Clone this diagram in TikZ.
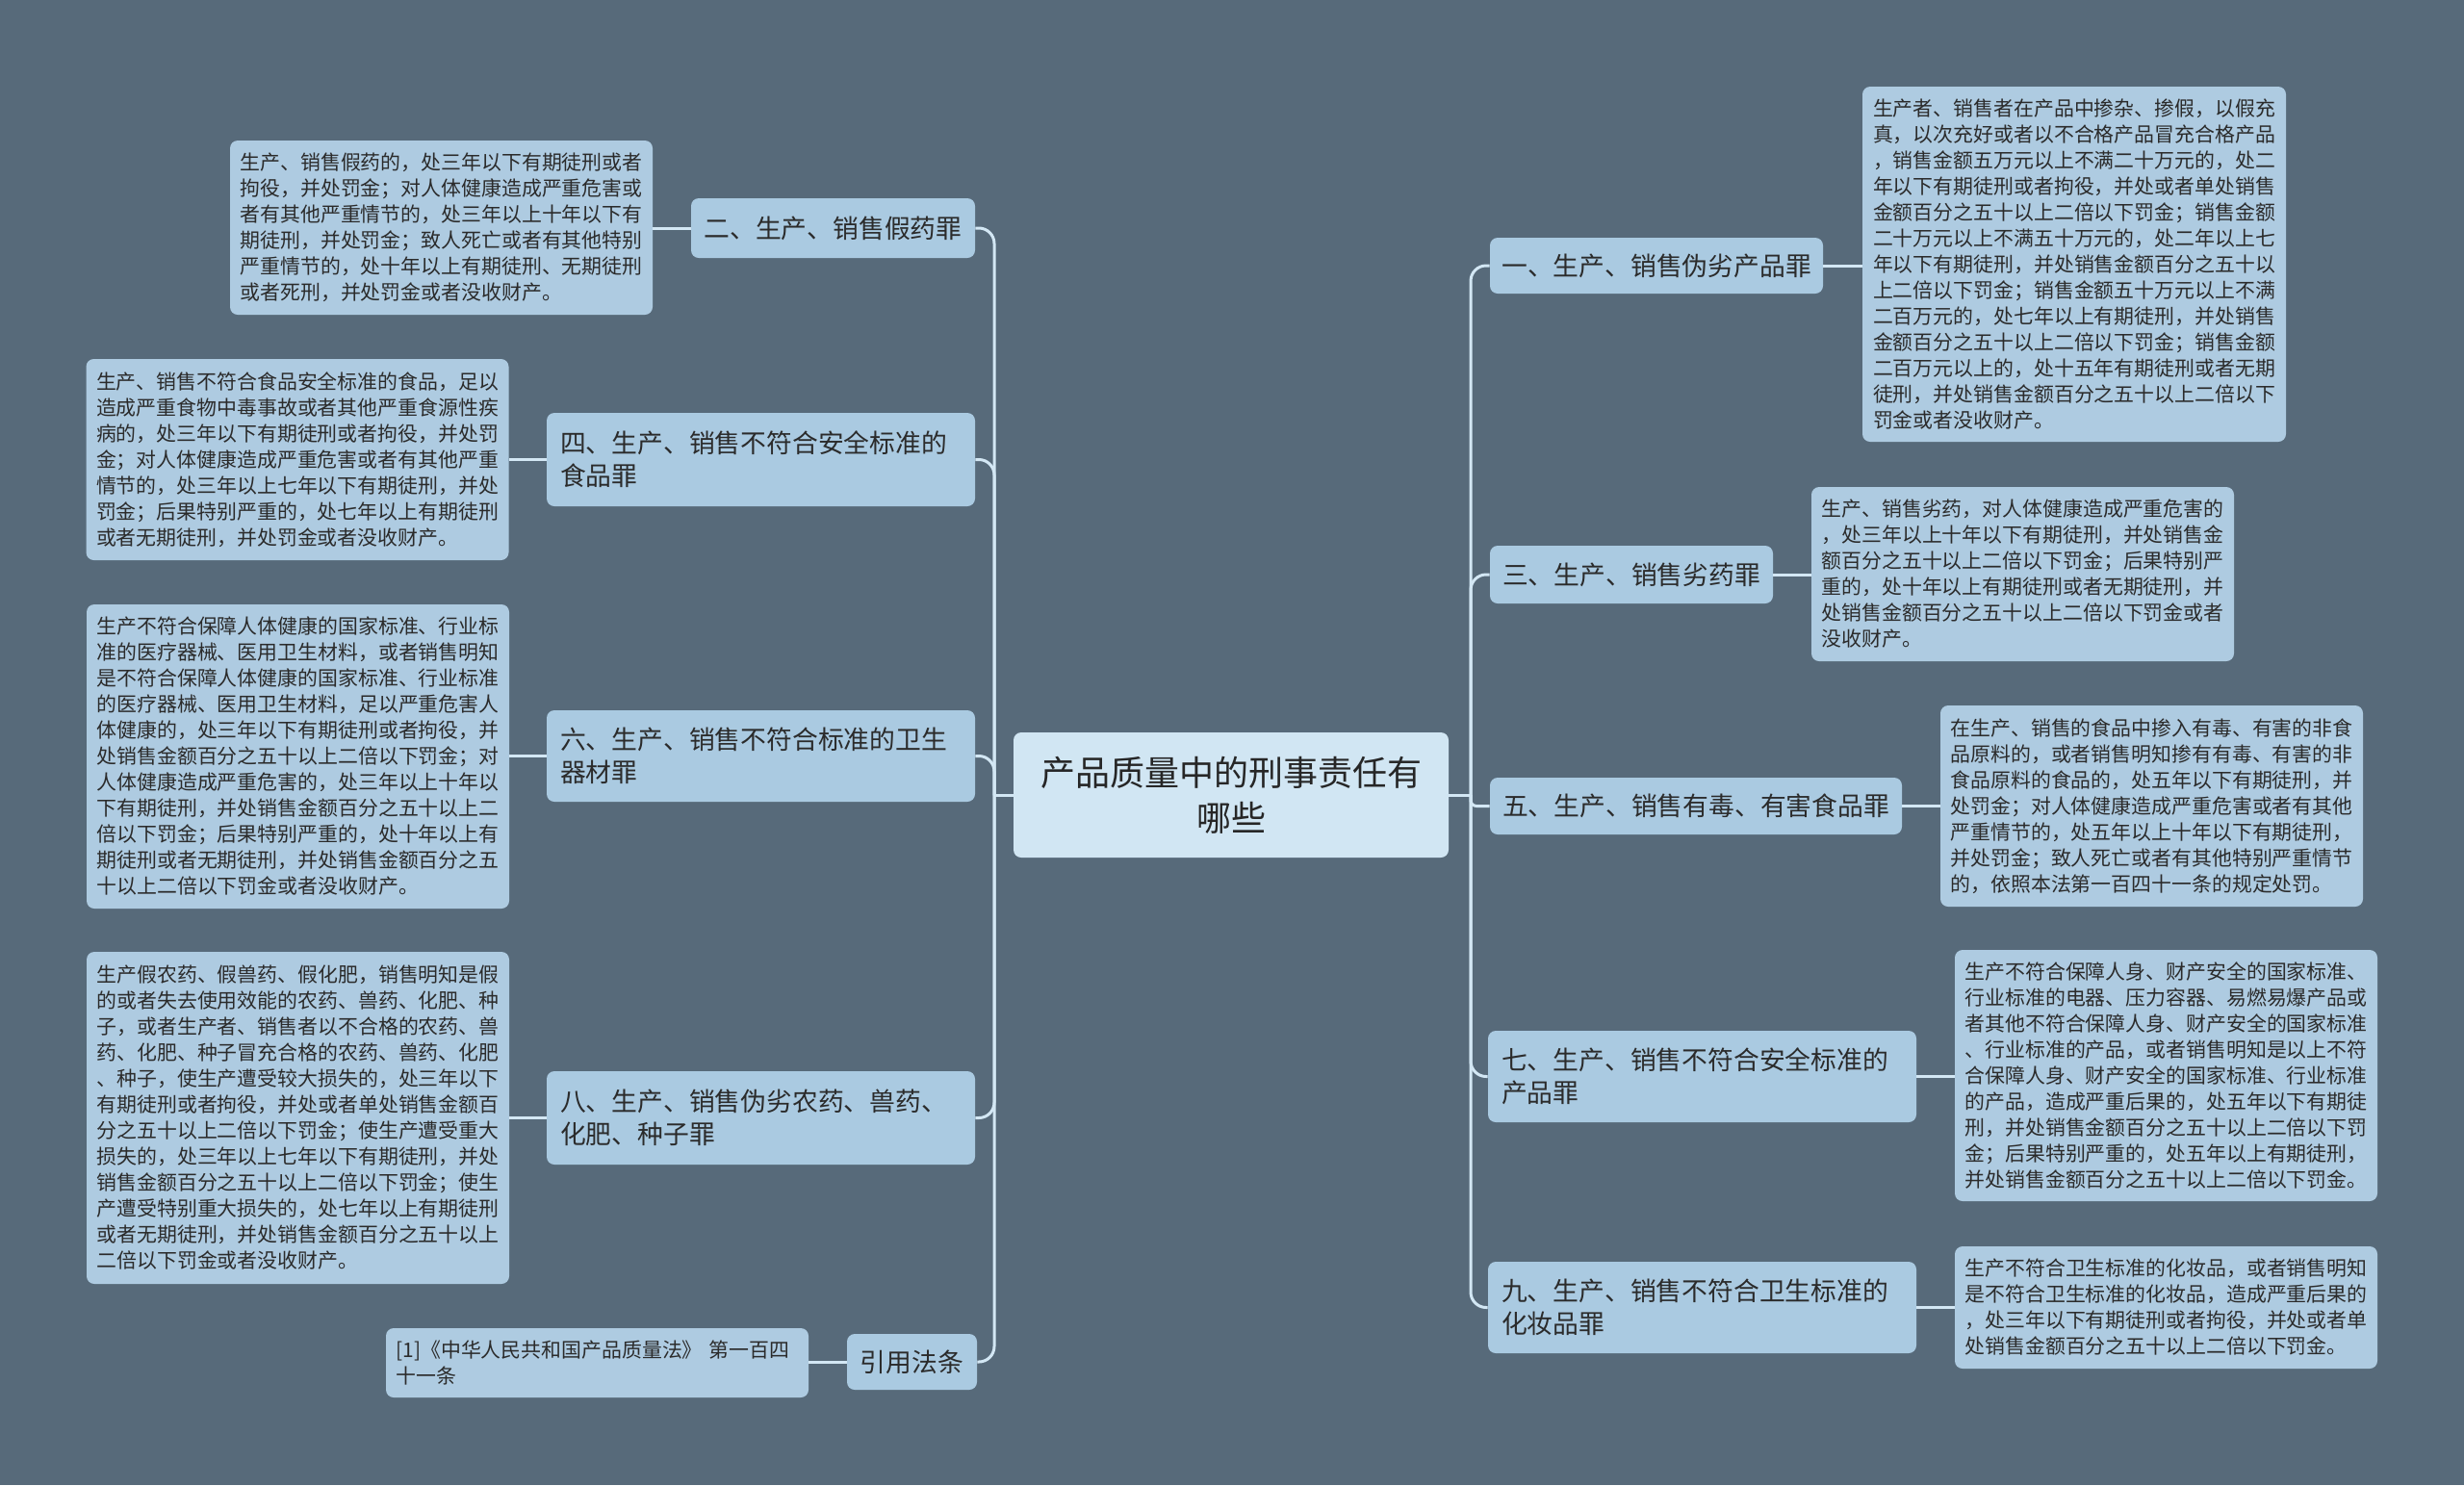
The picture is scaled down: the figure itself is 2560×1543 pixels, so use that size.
\documentclass[tikz,border=0pt]{standalone}
\usepackage{fontspec}
\setmainfont{Noto Sans CJK SC}
\definecolor{bgc}{HTML}{576A7A}
\definecolor{leafc}{HTML}{AECBE1}
\definecolor{branchc}{HTML}{AACAE1}
\definecolor{centerc}{HTML}{D1E6F3}
\definecolor{linec}{HTML}{D3E7F4}
\definecolor{txtc}{HTML}{2B2B2B}
\tikzset{
  sz/.style 2 args={minimum width={#1*0.5pt},minimum height={#2*0.5pt}},
  leaf/.style={fill=leafc, rounded corners=4pt, text=txtc, align=left,
    text width=209pt, inner xsep=5.25pt, inner ysep=2pt,
    font=\fontsize{10.45pt}{13.5pt}\selectfont},
  branchone/.style={fill=branchc, rounded corners=4pt, text=txtc, align=center,
    inner xsep=4pt, inner ysep=2pt, font=\fontsize{13.4pt}{17pt}\selectfont},
  branchtwo/.style={fill=branchc, rounded corners=4pt, text=txtc, align=left,
    text width=208.5pt, inner xsep=7pt, inner ysep=2pt, font=\fontsize{13.4pt}{17pt}\selectfont},
  centerbox/.style={fill=centerc, rounded corners=4pt, text=black!85, align=center,
    inner sep=2pt, font=\fontsize{18pt}{23.5pt}\selectfont},
  conn/.style={draw=linec, line width=1.5pt},
  trunk/.style={conn, rounded corners=8pt}
}
\begin{document}
\begin{tikzpicture}[x=0.5pt,y=-0.5pt]
\fill[bgc] (0,0) rectangle (2560,1543);
\useasboundingbox (0,0) rectangle (2560,1543);

% center
\node[centerbox, sz={452}{130}] (C) at (1279,826) {产品质量中的刑事责任有\\哪些};

% left branches
\node[branchone, sz={295}{62}] (B2) at (865.5,237) {二、生产、销售假药罪};
\node[branchtwo, sz={445}{97}] (B4) at (790.5,477.5) {四、生产、销售不符合安全标准的\\食品罪};
\node[branchtwo, sz={445}{95}] (B6) at (790.5,785.5) {六、生产、销售不符合标准的卫生\\器材罪};
\node[branchtwo, sz={445}{97}] (B8) at (790.5,1161.5) {八、生产、销售伪劣农药、兽药、\\化肥、种子罪};
\node[branchone, sz={135}{58}] (BC) at (947.5,1415) {引用法条};

% right branches
\node[branchone, sz={346}{58}] (R1) at (1721,276) {一、生产、销售伪劣产品罪};
\node[branchone, sz={294}{60}] (R3) at (1695,597) {三、生产、销售劣药罪};
\node[branchone, sz={428}{59}] (R5) at (1762,837.5) {五、生产、销售有毒、有害食品罪};
\node[branchtwo, sz={441}{95}] (R7) at (1768.5,1118.5) {七、生产、销售不符合安全标准的\\产品罪};
\node[branchtwo, sz={441}{95}] (R9) at (1768.5,1358.5) {九、生产、销售不符合卫生标准的\\化妆品罪};

% left leaves
\node[leaf, sz={439}{181}] (L2) at (458.5,236.5) {生产、销售假药的，处三年以下有期徒刑或者\\拘役，并处罚金；对人体健康造成严重危害或\\者有其他严重情节的，处三年以上十年以下有\\期徒刑，并处罚金；致人死亡或者有其他特别\\严重情节的，处十年以上有期徒刑、无期徒刑\\或者死刑，并处罚金或者没收财产。};
\node[leaf, sz={438}{209}] (L4) at (309,477.5) {生产、销售不符合食品安全标准的食品，足以\\造成严重食物中毒事故或者其他严重食源性疾\\病的，处三年以下有期徒刑或者拘役，并处罚\\金；对人体健康造成严重危害或者有其他严重\\情节的，处三年以上七年以下有期徒刑，并处\\罚金；后果特别严重的，处七年以上有期徒刑\\或者无期徒刑，并处罚金或者没收财产。};
\node[leaf, sz={439}{316}] (L6) at (309.5,786) {生产不符合保障人体健康的国家标准、行业标\\准的医疗器械、医用卫生材料，或者销售明知\\是不符合保障人体健康的国家标准、行业标准\\的医疗器械、医用卫生材料，足以严重危害人\\体健康的，处三年以下有期徒刑或者拘役，并\\处销售金额百分之五十以上二倍以下罚金；对\\人体健康造成严重危害的，处三年以上十年以\\下有期徒刑，并处销售金额百分之五十以上二\\倍以下罚金；后果特别严重的，处十年以上有\\期徒刑或者无期徒刑，并处销售金额百分之五\\十以上二倍以下罚金或者没收财产。};
\node[leaf, sz={439}{345}] (L8) at (309.5,1161.5) {生产假农药、假兽药、假化肥，销售明知是假\\的或者失去使用效能的农药、兽药、化肥、种\\子，或者生产者、销售者以不合格的农药、兽\\药、化肥、种子冒充合格的农药、兽药、化肥\\、种子，使生产遭受较大损失的，处三年以下\\有期徒刑或者拘役，并处或者单处销售金额百\\分之五十以上二倍以下罚金；使生产遭受重大\\损失的，处三年以上七年以下有期徒刑，并处\\销售金额百分之五十以上二倍以下罚金；使生\\产遭受特别重大损失的，处七年以上有期徒刑\\或者无期徒刑，并处销售金额百分之五十以上\\二倍以下罚金或者没收财产。};
\node[leaf, sz={437}{72}] (LC) at (620.5,1416) {[1]《中华人民共和国产品质量法》~第一百四\\十一条};

% right leaves
\node[leaf, sz={440}{369}] (RL1) at (2155,274.5) {生产者、销售者在产品中掺杂、掺假，以假充\\真，以次充好或者以不合格产品冒充合格产品\\，销售金额五万元以上不满二十万元的，处二\\年以下有期徒刑或者拘役，并处或者单处销售\\金额百分之五十以上二倍以下罚金；销售金额\\二十万元以上不满五十万元的，处二年以上七\\年以下有期徒刑，并处销售金额百分之五十以\\上二倍以下罚金；销售金额五十万元以上不满\\二百万元的，处七年以上有期徒刑，并处销售\\金额百分之五十以上二倍以下罚金；销售金额\\二百万元以上的，处十五年有期徒刑或者无期\\徒刑，并处销售金额百分之五十以上二倍以下\\罚金或者没收财产。};
\node[leaf, sz={439}{181}] (RL3) at (2101.5,596.5) {生产、销售劣药，对人体健康造成严重危害的\\，处三年以上十年以下有期徒刑，并处销售金\\额百分之五十以上二倍以下罚金；后果特别严\\重的，处十年以上有期徒刑或者无期徒刑，并\\处销售金额百分之五十以上二倍以下罚金或者\\没收财产。};
\node[leaf, sz={439}{209}] (RL5) at (2235.5,837.5) {在生产、销售的食品中掺入有毒、有害的非食\\品原料的，或者销售明知掺有有毒、有害的非\\食品原料的食品的，处五年以下有期徒刑，并\\处罚金；对人体健康造成严重危害或者有其他\\严重情节的，处五年以上十年以下有期徒刑，\\并处罚金；致人死亡或者有其他特别严重情节\\的，依照本法第一百四十一条的规定处罚。};
\node[leaf, sz={439}{261}] (RL7) at (2250.5,1117.5) {生产不符合保障人身、财产安全的国家标准、\\行业标准的电器、压力容器、易燃易爆产品或\\者其他不符合保障人身、财产安全的国家标准\\、行业标准的产品，或者销售明知是以上不符\\合保障人身、财产安全的国家标准、行业标准\\的产品，造成严重后果的，处五年以下有期徒\\刑，并处销售金额百分之五十以上二倍以下罚\\金；后果特别严重的，处五年以上有期徒刑，\\并处销售金额百分之五十以上二倍以下罚金。};
\node[leaf, sz={439}{127}] (RL9) at (2250.5,1358.5) {生产不符合卫生标准的化妆品，或者销售明知\\是不符合卫生标准的化妆品，造成严重后果的\\，处三年以下有期徒刑或者拘役，并处或者单\\处销售金额百分之五十以上二倍以下罚金。};

% trunks
\coordinate (tL) at (1033,826);
\coordinate (tR) at (1528,826);
\draw[conn] (C.west) -- (tL);
\draw[conn] (C.east) -- (tR);
\foreach \b in {B2,B4,B6,B8,BC} \draw[trunk] (tL) |- (\b.east);
\foreach \b in {R1,R3,R7,R9} \draw[trunk] (tR) |- (\b.west);
\draw[conn, rounded corners=3pt] (tR) |- (R5.west);

% leaf connectors
\draw[conn] (B2.west) -- (B2.west -| L2.east);
\draw[conn] (B4.west) -- (B4.west -| L4.east);
\draw[conn] (B6.west) -- (B6.west -| L6.east);
\draw[conn] (B8.west) -- (B8.west -| L8.east);
\draw[conn] (BC.west) -- (BC.west -| LC.east);
\draw[conn] (R1.east) -- (R1.east -| RL1.west);
\draw[conn] (R3.east) -- (R3.east -| RL3.west);
\draw[conn] (R5.east) -- (R5.east -| RL5.west);
\draw[conn] (R7.east) -- (R7.east -| RL7.west);
\draw[conn] (R9.east) -- (R9.east -| RL9.west);
\end{tikzpicture}
\end{document}
